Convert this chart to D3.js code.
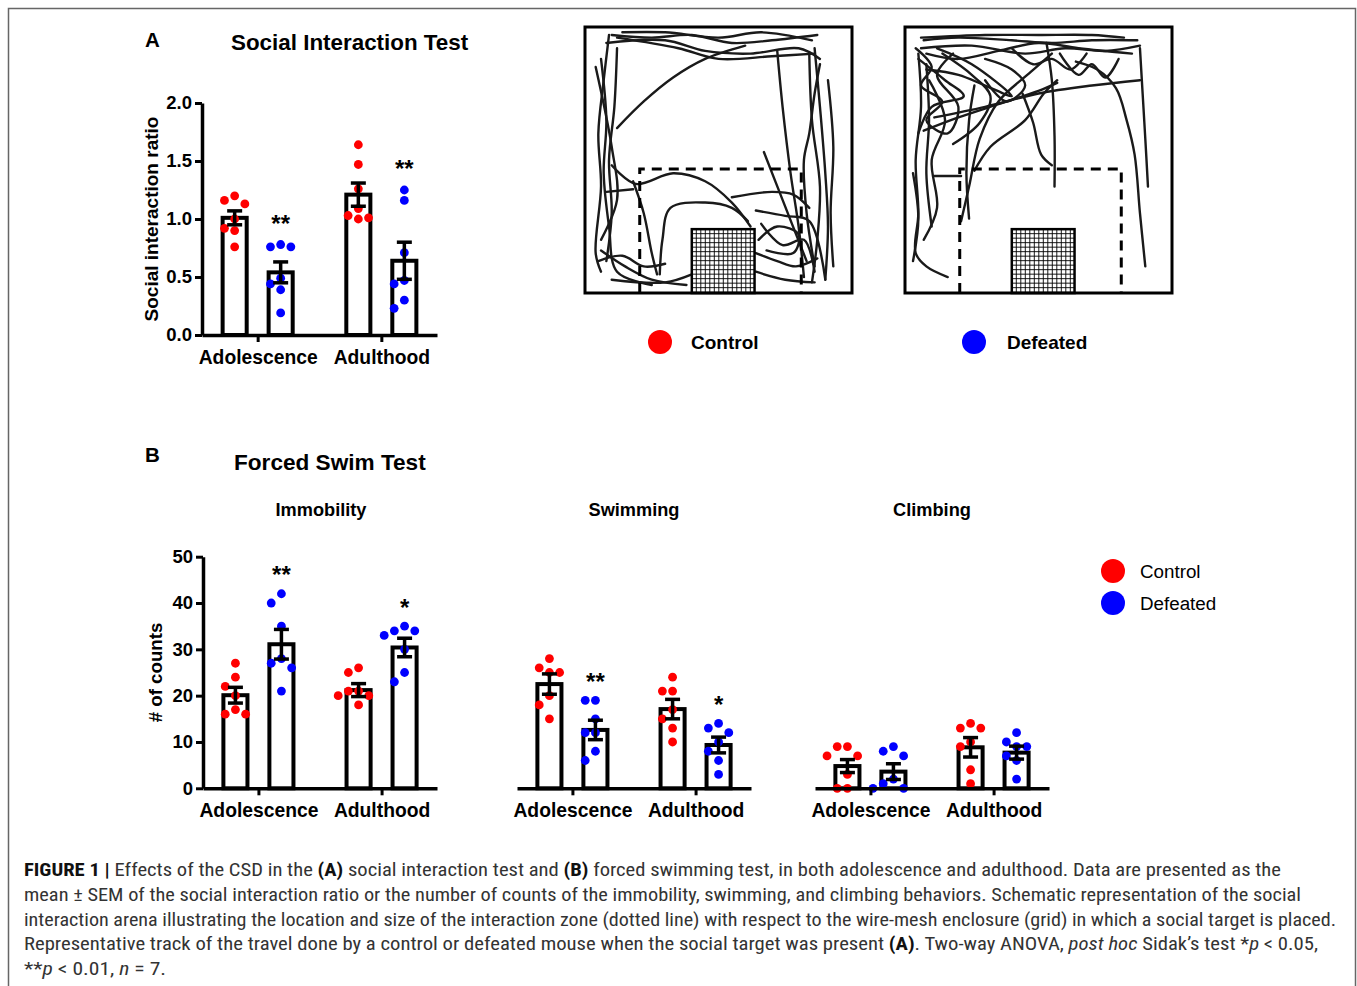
<!DOCTYPE html>
<html><head><meta charset="utf-8">
<script src="https://cdn.jsdelivr.net/npm/d3@7"></script>
<style>
body{margin:0;background:#fff}
svg{display:block}
text{font-family:"Liberation Sans",Arial,Helvetica,sans-serif}
</style>
</head><body>
<svg id="fig" width="1357" height="986"></svg>
<script>
// ---------------- DATA ----------------
const groups = ["Adolescence", "Adulthood"];
const conditions = ["Control", "Defeated"];

// Panel A: social interaction ratio
const siTicks = [0, 0.5, 1.0, 1.5, 2.0];
const siMeans = [[1.01, 0.54], [1.21, 0.64]];
const siSems  = [[0.06, 0.09], [0.10, 0.16]];
const siPoints = [
  [[1.20, 1.16, 1.13, 1.00, 0.92, 0.90, 0.76], [0.78, 0.76, 0.76, 0.49, 0.44, 0.39, 0.19]],
  [[1.64, 1.47, 1.26, 1.09, 1.03, 1.01, 1.00], [1.25, 1.16, 0.71, 0.47, 0.44, 0.30, 0.23]]
];
const siStars = [["", "**"], ["", "**"]];

// Panel B: forced swim test (# of counts)
const fstTicks = [0, 10, 20, 30, 40, 50];
const behaviours = ["Immobility", "Swimming", "Climbing"];
const immMeans = [[20.1, 31.1], [21.2, 30.4]];
const immSems  = [[1.7, 3.2], [1.4, 2.0]];
const immPoints = [
  [[27, 24, 22, 20, 17, 16, 16], [42, 40, 35, 28, 27, 26, 21]],
  [[26, 25, 21, 21, 20, 20, 18], [35, 34, 34, 33, 30, 25, 23]]
];
const immStars = [["", "**"], ["", "*"]];

const swimMeans = [[22.5, 12.6], [17.1, 9.35]];
const swimSems  = [[2.2, 2.1], [2.1, 1.7]];
const swimPoints = [
  [[28, 26, 25, 25, 20, 18, 15], [19, 19, 15, 12, 12, 8, 6]],
  [[24, 21, 21, 17, 15, 13, 10], [14, 13, 12, 10, 8, 6, 3]]
];
const swimStars = [["", "**"], ["", "*"]];

const climbMeans = [[4.8, 3.6], [8.85, 7.7]];
const climbSems  = [[1.4, 1.7], [2.1, 1.4]];
const climbPoints = [
  [[9, 9, 7, 7, 3, 0, 0], [9, 8, 7, 2, 1, 0, 0]],
  [[14, 13, 13, 10, 9, 4, 1], [12, 10, 9, 9, 7, 6, 2]]
];
const climbStars = [["", ""], ["", ""]];

// Representative tracks (arena units 0-100)
const controlTracks = [
  [[10,3],[25,4],[40,3],[55,6],[70,5],[87,3]],
  [[8,6],[30,5],[45,9],[62,10],[80,8],[88,12]],
  [[12,4],[35,8],[50,12],[70,11],[86,10]],
  [[14,2],[30,2],[50,4],[66,2],[85,5]],
  [[9,3],[7,20],[5,40],[6,60],[4,85],[6,92]],
  [[12,8],[11,30],[9,50],[10,70],[8,88]],
  [[6,12],[8,35],[7,55],[9,75],[12,92],[25,97]],
  [[4,15],[10,45],[12,65],[6,80]],
  [[86,8],[88,30],[90,55],[91,75],[90,95]],
  [[84,10],[85,35],[88,60],[87,80],[85,96]],
  [[88,14],[86,25],[84,40],[82,50],[83,70],[86,90]],
  [[91,20],[93,45],[92,70],[93,90]],
  [[12,38],[22,28],[33,19],[45,12],[60,7]],
  [[72,9],[74,30],[77,55],[80,75],[82,94]],
  [[10,52],[19,59],[33,55],[45,58],[55,66],[62,75]],
  [[18,58],[22,70],[25,85],[27,93]],
  [[28,93],[29,80],[32,68],[45,66],[55,68],[61,73]],
  [[67,47],[74,65],[83,88]],
  [[55,64],[70,62],[78,63],[84,68]],
  [[64,69],[75,71],[84,73],[90,95]],
  [[64,85],[72,88],[79,90],[87,87]],
  [[6,84],[15,90],[25,95],[38,97]],
  [[10,95],[30,96],[40,93]],
  [[8,62],[18,61]],
  [[64,92],[75,95],[86,96]],
  [[65,80],[72,75],[80,78],[78,85],[68,84]],
  [[66,74],[74,82],[82,80],[86,92]],
  [[5,88],[14,86],[22,90],[30,89]]
];
const defeatedTracks = [
  [[7,5],[20,4],[40,5],[55,6],[70,5],[87,5]],
  [[6,8],[25,7],[45,10],[60,8],[75,9],[88,7]],
  [[8,10],[20,12],[35,9],[50,6],[65,8],[85,10]],
  [[6,4],[30,3],[50,3],[70,3],[82,4]],
  [[4,8],[10,15],[6,22],[14,28],[8,35],[16,40],[20,30],[12,18],[18,10]],
  [[5,12],[15,20],[22,26],[10,30],[5,40]],
  [[8,16],[20,18],[30,22],[40,26],[25,14],[12,8]],
  [[14,10],[25,18],[32,26],[28,36],[18,44]],
  [[5,10],[6,30],[4,50],[5,70],[4,85],[8,90],[16,94]],
  [[8,14],[9,35],[8,55],[10,75]],
  [[9,20],[15,35],[10,50],[12,68],[7,80]],
  [[3,55],[5,72],[3,88]],
  [[7,39],[20,34],[35,29],[50,24],[57,21]],
  [[11,34],[30,30],[50,25],[70,22],[88,20]],
  [[21,73],[24,60],[28,42],[35,28],[47,17],[55,10]],
  [[26,54],[32,45],[45,35],[52,25],[57,20]],
  [[24,72],[23,55],[24,35],[26,22]],
  [[53,6],[55,20],[56,41],[56,60]],
  [[44,25],[48,36],[51,48],[55,52]],
  [[64,13],[72,16],[79,23],[83,35],[86,48],[88,70],[90,90]],
  [[88,8],[89,25],[90,42],[91,60]],
  [[11,56],[21,56]],
  [[58,10],[65,18],[70,14],[75,19],[80,12]],
  [[40,8],[48,14],[55,12],[62,16],[68,10]],
  [[30,12],[40,16],[45,22],[38,28],[30,20]]
];
// interaction zone and enclosure (arena units)
const zone = {x0: 20.5, x1: 81, y0: 53.4, y1: 100};
const enclosure = {x0: 40, x1: 63.5, y0: 76, y1: 100};

// ---------------- DRAWING ----------------
const svg = d3.select("#fig");
const colors = {Control: "#ff0000", Defeated: "#0000ff"};
const FONT = "Liberation Sans, Arial, sans-serif";

// frame
svg.append("rect").attr("x", 8.5).attr("y", 8.5).attr("width", 1347).attr("height", 1010)
  .attr("fill", "none").attr("stroke", "#666").attr("stroke-width", 1.5);

function swarm(vals, y, cx, r) {
  const step = 2 * r + 1.4;
  const placed = [];
  vals.map(v => ({v, py: y(v)})).sort((a, b) => a.py - b.py).forEach(p => {
    const cands = [0];
    for (let k = 1; k < 8; k++) { cands.push(-k * step, k * step); }
    for (const off of cands) {
      const px = cx + off;
      if (placed.every(q => Math.hypot(q.px - px, q.py - p.py) >= 2 * r + 0.6)) {
        placed.push({v: p.v, px, py: p.py});
        break;
      }
    }
  });
  return placed;
}

function barChart(o) {
  const g = svg.append("g");
  const y = o.y;
  const xg = d3.scalePoint().domain(groups).range([o.x0, o.x1]).padding(0.45);
  const xc = d3.scaleBand().domain(conditions).range([-46, 46]).paddingInner(0.39).paddingOuter(0.195);
  const bw = xc.bandwidth();
  groups.forEach((gn, gi) => conditions.forEach((c, ci) => {
    const cx = xg(gn) + xc(c) + bw / 2;
    const m = o.means[gi][ci], s = o.sems[gi][ci];
    g.append("rect").attr("x", cx - bw / 2 + 2).attr("y", y(m))
      .attr("width", bw - 4).attr("height", y(0) - y(m))
      .attr("fill", "#fff").attr("stroke", "#000").attr("stroke-width", 4);
    const pts = swarm(o.points[gi][ci], y, cx, 4.4);
    g.selectAll(null).data(pts).join("circle")
      .attr("cx", d => d.px).attr("cy", d => d.py).attr("r", 4.4)
      .attr("fill", colors[c]);
    const eb = g.append("g").attr("stroke", "#000").attr("stroke-width", 3.5);
    eb.append("line").attr("x1", cx).attr("x2", cx).attr("y1", y(m - s)).attr("y2", y(m + s));
    [m - s, m + s].forEach(v => eb.append("line").attr("x1", cx - 7.5).attr("x2", cx + 7.5)
      .attr("y1", y(v)).attr("y2", y(v)));
    const star = o.stars[gi][ci];
    if (star) {
      const top = Math.min(y(d3.max(o.points[gi][ci])), y(m + s));
      g.append("text").attr("x", cx).attr("y", top - o.starGap).attr("text-anchor", "middle")
        .attr("font-size", 24).attr("font-weight", "bold").text(star);
    }
  }));
  // x axis
  const xa = g.append("g").attr("transform", `translate(0,${y(0)})`)
    .call(d3.axisBottom(xg).tickSize(7).tickSizeOuter(0).tickPadding(8));
  xa.select(".domain").attr("stroke-width", 3.5);
  xa.selectAll(".tick line").attr("stroke-width", 3);
  xa.selectAll(".tick text").attr("font-size", 19.3).attr("font-weight", "bold")
    .attr("font-family", FONT).attr("fill", "#000");
  if (o.yAxis) {
    const ya = g.append("g").attr("transform", `translate(${o.x0},0)`)
      .call(d3.axisLeft(y).tickValues(o.ticks).tickFormat(o.fmt).tickSize(7).tickSizeOuter(0).tickPadding(3));
    ya.select(".domain").attr("stroke-width", 3.5);
    ya.selectAll(".tick line").attr("stroke-width", 3);
    ya.selectAll(".tick text").attr("font-size", 18.5).attr("font-weight", "bold")
      .attr("font-family", FONT).attr("fill", "#000");
    const mid = (y.range()[0] + y.range()[1]) / 2;
    g.append("text").attr("transform", `translate(${o.labelX},${mid}) rotate(-90)`)
      .attr("text-anchor", "middle").attr("font-size", o.labelSize).attr("font-weight", "bold")
      .text(o.yLabel);
  }
}

// ---- Panel A ----
svg.append("text").attr("x", 145).attr("y", 47).attr("font-size", 20.5).attr("font-weight", "bold").text("A");
svg.append("text").attr("x", 231).attr("y", 50).attr("font-size", 22.4).attr("font-weight", "bold").text("Social Interaction Test");
const yA = d3.scaleLinear().domain([0, 2]).range([335, 103]);
barChart({x0: 202, x1: 437, y: yA, means: siMeans, sems: siSems, points: siPoints, stars: siStars, starGap: 13,
  yAxis: true, ticks: siTicks, fmt: d3.format(".1f"), yLabel: "Social interaction ratio", labelX: 158, labelSize: 19});

// arenas
function arena(x0, y0, tracks) {
  const g = svg.append("g");
  const ax = d3.scaleLinear().domain([0, 100]).range([x0, x0 + 267]);
  const ay = d3.scaleLinear().domain([0, 100]).range([y0, y0 + 266]);
  const line = d3.line().x(d => ax(d[0])).y(d => ay(d[1])).curve(d3.curveCatmullRom.alpha(0.5));
  g.selectAll(null).data(tracks).join("path").attr("d", line)
    .attr("fill", "none").attr("stroke", "#1a1a1a").attr("stroke-width", 2.4)
    .attr("stroke-linejoin", "round").attr("stroke-linecap", "round");
  // interaction zone (dashed)
  g.append("path")
    .attr("d", `M${ax(zone.x0)},${ay(zone.y1)} V${ay(zone.y0)} H${ax(zone.x1)} V${ay(zone.y1)}`)
    .attr("fill", "none").attr("stroke", "#000").attr("stroke-width", 3).attr("stroke-dasharray", "10,7");
  // enclosure grid
  const ex0 = ax(enclosure.x0), ex1 = ax(enclosure.x1), ey0 = ay(enclosure.y0), ey1 = ay(enclosure.y1);
  g.append("rect").attr("x", ex0).attr("y", ey0).attr("width", ex1 - ex0).attr("height", ey1 - ey0).attr("fill", "#fff");
  const gl = g.append("g").attr("stroke", "#000").attr("stroke-width", 0.9);
  d3.range(ex0 + 4.5, ex1 - 1, 4.5).forEach(x => gl.append("line").attr("x1", x).attr("x2", x).attr("y1", ey0).attr("y2", ey1));
  d3.range(ey0 + 4.5, ey1 - 1, 4.5).forEach(yy => gl.append("line").attr("x1", ex0).attr("x2", ex1).attr("y1", yy).attr("y2", yy));
  g.append("rect").attr("x", ex0).attr("y", ey0).attr("width", ex1 - ex0).attr("height", ey1 - ey0)
    .attr("fill", "none").attr("stroke", "#000").attr("stroke-width", 2.5);
  // box
  g.append("rect").attr("x", x0).attr("y", y0).attr("width", 267).attr("height", 266)
    .attr("fill", "none").attr("stroke", "#000").attr("stroke-width", 3);
}
arena(585, 27, controlTracks);
arena(905, 27, defeatedTracks);

// legend A
[["Control", 660, 691], ["Defeated", 974, 1007]].forEach(([c, cx, tx]) => {
  svg.append("circle").attr("cx", cx).attr("cy", 342).attr("r", 12).attr("fill", colors[c]);
  svg.append("text").attr("x", tx).attr("y", 349).attr("font-size", 19).attr("font-weight", "bold").text(c);
});

// ---- Panel B ----
svg.append("text").attr("x", 145).attr("y", 462).attr("font-size", 20.5).attr("font-weight", "bold").text("B");
svg.append("text").attr("x", 234).attr("y", 470).attr("font-size", 22.6).attr("font-weight", "bold").text("Forced Swim Test");
const yB = d3.scaleLinear().domain([0, 50]).range([788.3, 556.7]);
const bCharts = [
  {x0: 203, means: immMeans, sems: immSems, points: immPoints, stars: immStars, yAxis: true, title: 321},
  {x0: 517, means: swimMeans, sems: swimSems, points: swimPoints, stars: swimStars, yAxis: false, title: 634},
  {x0: 815, means: climbMeans, sems: climbSems, points: climbPoints, stars: climbStars, yAxis: false, title: 932}
];
bCharts.forEach((c, i) => {
  barChart(Object.assign({x1: c.x0 + 234, y: yB, ticks: fstTicks, fmt: d3.format("d"), starGap: 10.5,
    yLabel: "# of counts", labelX: 162, labelSize: 18.7}, c));
  svg.append("text").attr("x", c.title).attr("y", 515.5).attr("text-anchor", "middle")
    .attr("font-size", 18.2).attr("font-weight", "bold").text(behaviours[i]);
});

// legend B
conditions.forEach((c, i) => {
  svg.append("circle").attr("cx", 1113).attr("cy", 571 + i * 32).attr("r", 12).attr("fill", colors[c]);
  svg.append("text").attr("x", 1140).attr("y", 578 + i * 32).attr("font-size", 18.8).text(c);
});

// ---- Caption ----
const capLines = [
  {w: 1257, parts: [["FIGURE 1 | ", "b"], ["Effects of the CSD in the "], ["(A)", "b"], [" social interaction test and "], ["(B)", "b"], [" forced swimming test, in both adolescence and adulthood. Data are presented as the"]]},
  {w: 1277, parts: [["mean \u00B1 SEM of the social interaction ratio or the number of counts of the immobility, swimming, and climbing behaviors. Schematic representation of the social"]]},
  {w: 1312, parts: [["interaction arena illustrating the location and size of the interaction zone (dotted line) with respect to the wire-mesh enclosure (grid) in which a social target is placed."]]},
  {w: 1294, parts: [["Representative track of the travel done by a control or defeated mouse when the social target was present "], ["(A)", "b"], [". Two-way ANOVA, "], ["post hoc", "i"], [" Sidak\u2019s test *"], ["p", "i"], [" < 0.05,"]]},
  {w: 142, parts: [["**"], ["p", "i"], [" < 0.01, "], ["n", "i"], [" = 7."]]}
];
capLines.forEach((ln, i) => {
  const t = svg.append("text").attr("x", 24).attr("y", 876 + i * 24.8)
    .attr("font-size", 17.5).attr("fill", "#333")
    .style("font-family", "'Liberation Sans Narrow','Roboto Condensed',sans-serif");
  if (ln.w) t.attr("textLength", ln.w).attr("lengthAdjust", "spacingAndGlyphs");
  ln.parts.forEach(([s, st]) => {
    const ts = t.append("tspan").text(s);
    if (st === "b") ts.attr("font-weight", "bold").attr("fill", "#111");
    if (st === "i") ts.attr("font-style", "italic");
  });
});
</script>
</body></html>
